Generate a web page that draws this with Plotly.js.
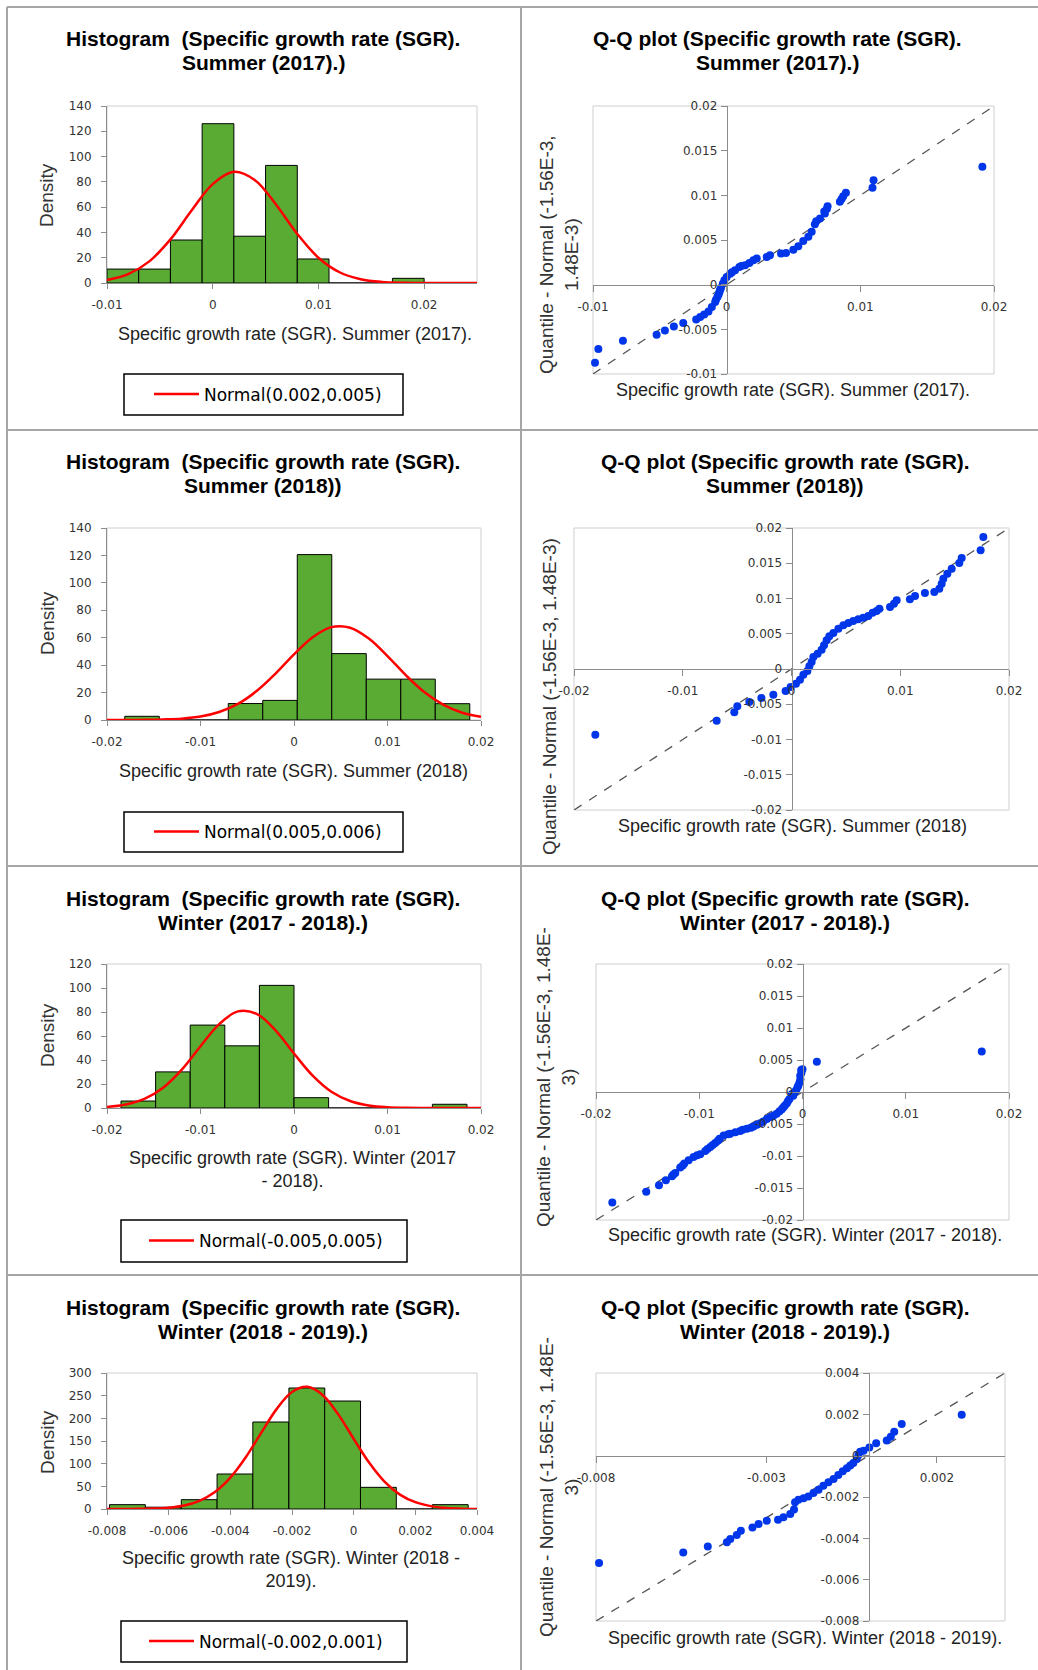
<!DOCTYPE html>
<html>
<head>
<meta charset="utf-8">
<script src="https://cdn.plot.ly/plotly-3.0.1.min.js"></script>
<style>html,body{margin:0;padding:0;background:#fff;}#chart{width:1038px;height:1670px;}</style>
</head>
<body>
<div id="chart"></div>
<script>
// ---------- DATA ----------
// Histogram 1: Summer (2017)
const h1Starts = [-0.010,-0.007,-0.004,-0.001,0.002,0.005,0.008,0.011,0.014,0.017];
const h1Width = 0.003;
const h1Density = [11,11,34,126,37,93,19,0,0,3.7];
const h1CurveX = [-0.010,-0.008,-0.006,-0.004,-0.002,0,0.002,0.004,0.006,0.008,0.010,0.012,0.014,0.016,0.018,0.020,0.022,0.025];
const h1CurveY = [2.3,7.0,17.1,34.5,57.3,78.2,87.9,81.3,61.9,38.8,20.0,8.5,3.0,0.85,0.2,0.05,0.01,0];
const h1Name = 'Normal(0.002,0.005)';
const h1TickVals = [-0.01,0,0.01,0.02];
const h1TickText = ['-0.01','0','0.01','0.02'];

// Histogram 2: Summer (2018)
const h2Starts = [-0.0181,-0.01441,-0.01072,-0.00703,-0.00334,0.00035,0.00404,0.00773,0.01142,0.01511];
const h2Width = 0.00369;
const h2Density = [2.7,0,0,12,14.3,120.6,48.4,29.8,29.8,11.9];
const h2CurveX = [-0.020,-0.018,-0.016,-0.014,-0.012,-0.010,-0.008,-0.006,-0.004,-0.002,0,0.002,0.004,0.006,0.008,0.010,0.012,0.014,0.016,0.018,0.020];
const h2CurveY = [0,0.02,0.1,0.4,1.0,2.5,5.8,11.7,21.1,33.7,47.9,60.4,67.7,67.3,59.4,46.6,32.4,20.0,11.0,5.3,2.3];
const h2Name = 'Normal(0.005,0.006)';
const h2TickVals = [-0.02,-0.01,0,0.01,0.02];
const h2TickText = ['-0.02','-0.01','0','0.01','0.02'];

// Histogram 3: Winter (2017 - 2018)
const h3Starts = [-0.0185,-0.0148,-0.0111,-0.0074,-0.0037,0,0.0037,0.0074,0.0111,0.0148];
const h3Width = 0.0037;
const h3Density = [5.8,30.1,69.1,51.8,102.2,8.6,0,0,0,3.1];
const h3CurveX = [-0.020,-0.018,-0.016,-0.014,-0.012,-0.010,-0.008,-0.006,-0.004,-0.002,0,0.002,0.004,0.006,0.008,0.010,0.012,0.014,0.016,0.020];
const h3CurveY = [0.9,2.9,7.6,16.9,32.0,51.4,69.9,80.5,78.5,64.9,45.4,26.9,13.5,5.8,2.1,0.6,0.15,0.03,0,0];
const h3Name = 'Normal(-0.005,0.005)';
const h3TickVals = [-0.02,-0.01,0,0.01,0.02];
const h3TickText = ['-0.02','-0.01','0','0.01','0.02'];

// Histogram 4: Winter (2018 - 2019)
const h4Starts = [-0.00792,-0.00676,-0.00559,-0.00443,-0.00327,-0.00210,-0.00094,0.00022,0.00138,0.00255];
const h4Width = 0.001163;
const h4Density = [9.6,4,20.6,77.2,191.9,266.9,238.2,47.8,0,9.6];
const h4CurveX = [-0.008,-0.0075,-0.007,-0.0065,-0.006,-0.0055,-0.005,-0.0045,-0.004,-0.0035,-0.003,-0.0025,-0.002,-0.0015,-0.001,-0.0005,0,0.0005,0.001,0.0015,0.002,0.0025,0.003,0.0035,0.004];
const h4CurveY = [0,0.08,0.3,1.0,3.0,7.8,18.1,37.5,69.2,114.2,168.0,220.3,258.0,269.4,251.0,208.7,154.8,102.4,60.4,31.8,15.0,6.3,2.3,0.8,0.2];
const h4Name = 'Normal(-0.002,0.001)';
const h4TickVals = [-0.008,-0.006,-0.004,-0.002,0,0.002,0.004];
const h4TickText = ['-0.008','-0.006','-0.004','-0.002','0','0.002','0.004'];

// Q-Q 1: Summer (2017)
const q1X = [-0.00985,-0.0096,-0.00776,-0.00524,-0.00462,-0.00395,-0.00325,-0.00228,-0.00198,-0.00168,-0.00136,-0.00111,-0.00086,-0.00069,-0.00054,-0.00042,-0.00029,-0.00017,0.0,0.00026,0.00063,0.00095,0.00138,0.0017,0.002,0.00225,0.003,0.00324,0.00407,0.00444,0.00499,0.00536,0.00573,0.00611,0.00636,0.0066,0.00698,0.00735,0.00755,0.00847,0.00872,0.00892,0.01091,0.01099,0.01913,-0.0008,-0.0006,-0.0005,0.0004,0.0011,0.0067,0.0073,0.0075,0.0086];
const q1Y = [-0.00875,-0.00721,-0.00628,-0.00561,-0.00512,-0.00467,-0.0043,-0.00389,-0.00363,-0.00333,-0.00299,-0.0025,-0.00194,-0.00138,-0.00082,-0.00034,0.00011,0.00049,0.00086,0.00123,0.00161,0.00198,0.00217,0.00243,0.00273,0.00292,0.0031,0.00329,0.00348,0.00355,0.00392,0.0043,0.0049,0.00535,0.00591,0.00677,0.0074,0.00796,0.00878,0.00927,0.00991,0.01028,0.01084,0.0117,0.0132,-0.0017,-0.0011,-0.0006,0.0014,0.0021,0.0071,0.0082,0.0085,0.0096];
const q1XTickVals = [-0.01,0,0.01,0.02];
const q1XTickText = ['-0.01','0','0.01','0.02'];
const q1YTickVals = [-0.01,-0.005,0,0.005,0.01,0.015,0.02];
const q1YTickText = ['-0.01','-0.005','0','0.005','0.01','0.015','0.02'];

// Q-Q 2: Summer (2018)
const q2X = [-0.01804,-0.00688,-0.00526,-0.00498,-0.00388,-0.00277,-0.00167,-0.00054,-0.00008,0.00041,0.00078,0.00109,0.00146,0.00164,0.00185,0.00201,0.0024,0.00277,0.00299,0.00323,0.00348,0.00385,0.00431,0.00477,0.00523,0.00568,0.00614,0.0066,0.00706,0.00746,0.00783,0.00808,0.00906,0.00942,0.00967,0.01089,0.01136,0.01227,0.01313,0.01359,0.01381,0.01396,0.01433,0.01473,0.01543,0.01565,0.01739,0.01764];
const q2Y = [-0.00931,-0.00733,-0.00615,-0.0053,-0.00468,-0.00411,-0.00364,-0.00312,-0.00255,-0.00208,-0.00151,-0.0008,-0.00028,0.00038,0.00099,0.0017,0.00217,0.00274,0.00336,0.00407,0.00463,0.00511,0.00572,0.00619,0.00652,0.00681,0.00704,0.00728,0.00752,0.00799,0.00823,0.00856,0.00879,0.00927,0.00974,0.00988,0.01035,0.01078,0.01092,0.0114,0.0121,0.01281,0.01352,0.01423,0.01504,0.01574,0.01683,0.01872];
const q2XTickVals = [-0.02,-0.01,0,0.01,0.02];
const q2XTickText = ['-0.02','-0.01','0','0.01','0.02'];
const q2YTickVals = [-0.02,-0.015,-0.01,-0.005,0,0.005,0.01,0.015,0.02];
const q2YTickText = ['-0.02','-0.015','-0.01','-0.005','0','0.005','0.01','0.015','0.02'];

// Q-Q 3: Winter (2017 - 2018)
const q3X = [-0.01842,-0.01513,-0.0139,-0.01323,-0.01264,-0.01232,-0.01184,-0.01145,-0.01103,-0.01055,-0.0099,-0.00942,-0.00893,-0.00845,-0.00803,-0.00764,-0.007,-0.00603,-0.00539,-0.00474,-0.0041,-0.00345,-0.0028,-0.00222,-0.00184,-0.00151,-0.00126,-0.00103,-0.00071,-0.00048,-0.00029,-0.00022,-0.00013,0.0,0.00139,0.01736,-0.0125,-0.0116,-0.0102,-0.0092,-0.0087,-0.0082,-0.0072,-0.0065,-0.0058,-0.0050,-0.0044,-0.0038,-0.0031,-0.0025,-0.0020,-0.0017,-0.0014,-0.0009,-0.0006,-0.0004,-0.0002,-0.0001];
const q3Y = [-0.01725,-0.0156,-0.01456,-0.01378,-0.01316,-0.01264,-0.01181,-0.01119,-0.01067,-0.01015,-0.00974,-0.00922,-0.0086,-0.00798,-0.0073,-0.00679,-0.00653,-0.00611,-0.00575,-0.00539,-0.00487,-0.0042,-0.00368,-0.003,-0.00238,-0.00176,-0.00109,-0.00031,0.00005,0.00073,0.0015,0.00254,0.00342,0.00357,0.00471,0.00632,-0.0129,-0.0115,-0.0099,-0.0089,-0.0083,-0.0076,-0.0066,-0.0063,-0.0059,-0.0056,-0.0051,-0.0046,-0.0039,-0.0034,-0.0027,-0.0021,-0.0014,-0.0006,0.0003,0.001,0.002,0.003];
const q3XTickVals = [-0.02,-0.01,0,0.01,0.02];
const q3XTickText = ['-0.02','-0.01','0','0.01','0.02'];
const q3YTickVals = [-0.02,-0.015,-0.01,-0.005,0,0.005,0.01,0.015,0.02];
const q3YTickText = ['-0.02','-0.015','-0.01','-0.005','0','0.005','0.01','0.015','0.02'];

// Q-Q 4: Winter (2018 - 2019)
const q4X = [-0.00791,-0.00544,-0.00472,-0.00416,-0.00406,-0.00387,-0.00375,-0.00341,-0.00323,-0.00299,-0.00266,-0.0025,-0.0023,-0.00219,-0.00216,-0.00206,-0.00191,-0.00177,-0.00162,-0.00147,-0.00133,-0.00118,-0.00103,-0.00089,-0.00076,-0.00064,-0.00054,-0.00045,-0.00035,-0.0003,-0.00025,-0.00015,0.00002,0.00022,0.00053,0.00065,0.00075,0.00097,0.00273];
const q4Y = [-0.00519,-0.00469,-0.00439,-0.00419,-0.00403,-0.00384,-0.00363,-0.00348,-0.00331,-0.00315,-0.0031,-0.00298,-0.00282,-0.00261,-0.00226,-0.00213,-0.00206,-0.00197,-0.00181,-0.00165,-0.00145,-0.00129,-0.00113,-0.00094,-0.00076,-0.00061,-0.00048,-0.00035,-0.00016,0.00003,0.00019,0.00024,0.0004,0.0006,0.00073,0.00092,0.00116,0.00153,0.00198];
const q4XTickVals = [-0.008,-0.003,0.002];
const q4XTickText = ['-0.008','-0.003','0.002'];
const q4YTickVals = [-0.008,-0.006,-0.004,-0.002,0,0.002,0.004];
const q4YTickText = ['-0.008','-0.006','-0.004','-0.002','0','0.002','0.004'];

// Titles (two lines each)
const histTitles = [
  ['Histogram  (Specific growth rate (SGR).','Summer (2017).)'],
  ['Histogram  (Specific growth rate (SGR).','Summer (2018))'],
  ['Histogram  (Specific growth rate (SGR).','Winter (2017 - 2018).)'],
  ['Histogram  (Specific growth rate (SGR).','Winter (2018 - 2019).)']];
const qqTitles = [
  ['Q-Q plot (Specific growth rate (SGR).','Summer (2017).)'],
  ['Q-Q plot (Specific growth rate (SGR).','Summer (2018))'],
  ['Q-Q plot (Specific growth rate (SGR).','Winter (2017 - 2018).)'],
  ['Q-Q plot (Specific growth rate (SGR).','Winter (2018 - 2019).)']];
const histXTitles = ['Specific growth rate (SGR). Summer (2017).','Specific growth rate (SGR). Summer (2018)','Specific growth rate (SGR). Winter (2017<br>- 2018).','Specific growth rate (SGR). Winter (2018 -<br>2019).'];
const qqXTitles = ['Specific growth rate (SGR). Summer (2017).','Specific growth rate (SGR). Summer (2018)','Specific growth rate (SGR). Winter (2017 - 2018).','Specific growth rate (SGR). Winter (2018 - 2019).'];
const qqYTitles = ['Quantile - Normal (-1.56E-3,<br>1.48E-3)','Quantile - Normal (-1.56E-3, 1.48E-3)','Quantile - Normal (-1.56E-3, 1.48E-<br>3)','Quantile - Normal (-1.56E-3, 1.48E-<br>3)'];
const densityTitle = 'Density';

// ---------- LAYOUT HELPERS ----------
const W = 1038, H = 1670;
const fx = p => p / W;
const fy = p => 1 - p / H;
const FONT = 'Liberation Sans, Arial, sans-serif';
const TFONT = 'DejaVu Sans, Verdana, sans-serif';
const GREEN = '#5aab34';
const RED = '#ff0000';
const BLUE = '#0036ea';
const AXC = '#8c8c8c';

const traces = [];
const layout = {
  width: W, height: H,
  margin: {l:0, r:0, t:0, b:0},
  paper_bgcolor: '#ffffff', plot_bgcolor: 'rgba(0,0,0,0)',
  font: {family: FONT, color: '#000'},
  showlegend: true,
  shapes: [], annotations: []
};

function ann(text, x, y, size, opts) {
  layout.annotations.push(Object.assign({
    text: text, xref: 'paper', yref: 'paper', x: fx(x), y: fy(y),
    xanchor: 'center', yanchor: 'middle', showarrow: false,
    font: {family: FONT, size: size, color: '#000'}
  }, opts || {}));
}
function title2(lines, x, y1) {
  ann('<b>' + lines[0] + '</b>', x, y1, 21);
  ann('<b>' + lines[1] + '</b>', x, y1 + 24, 21);
}

function tickFont() { return {family: TFONT, size: 12, color: '#333'}; }

function addHist(n, k, box, xr, yr, ydt, xtv, xtt, starts, w, dens, cx, cy, name, t) {
  const xa = 'xaxis' + (n === 1 ? '' : n), ya = 'yaxis' + (n === 1 ? '' : n);
  const xs = 'x' + (n === 1 ? '' : n), ys = 'y' + (n === 1 ? '' : n);
  const legId = k === 0 ? 'legend' : 'legend' + (k + 1);
  layout[xa] = {domain: [fx(box.x0), fx(box.x1)], range: xr, anchor: ys,
    tickvals: xtv, ticktext: xtt, ticks: 'outside', ticklen: 5, tickcolor: AXC,
    showline: true, linecolor: AXC, linewidth: 1, showgrid: false, zeroline: false,
    tickfont: tickFont(), ticklabelstandoff: 6, fixedrange: true};
  layout[ya] = {domain: [fy(box.y1), fy(box.y0)], range: yr, anchor: xs, dtick: ydt,
    ticks: 'outside', ticklen: 5, tickcolor: AXC,
    showline: true, linecolor: AXC, linewidth: 1, showgrid: false, zeroline: false,
    tickfont: tickFont(), ticklabelstandoff: 7, fixedrange: true};
  layout.shapes.push({type: 'rect', xref: xs + ' domain', yref: ys + ' domain', x0: 0, x1: 1, y0: 0, y1: 1,
    line: {color: '#cfcfcf', width: 1}, layer: 'below'});
  traces.push({type: 'bar', x: starts, y: dens, width: w, offset: 0, xaxis: xs, yaxis: ys,
    marker: {color: GREEN, line: {color: '#000', width: 1}}, showlegend: false, hoverinfo: 'skip'});
  traces.push({type: 'scatter', mode: 'lines', x: cx, y: cy, xaxis: xs, yaxis: ys, name: name,
    line: {color: RED, width: 2.5, shape: 'spline'}, legend: legId});
  layout.shapes.push({type: 'rect', xref: 'paper', yref: 'paper', x0: fx(t.lx0), x1: fx(t.lx1), y0: fy(t.ly1), y1: fy(t.ly0),
    line: {color: '#000', width: 1.5}});
  layout[legId] = {x: fx(t.legX), y: fy((t.ly0 + t.ly1) / 2), xanchor: 'center', yanchor: 'middle',
    bgcolor: 'rgba(0,0,0,0)', borderwidth: 0, font: {family: TFONT, size: 17, color: '#000'}, itemwidth: 45};
  title2(histTitles[k], 263, t.titleY);
  ann(densityTitle, 47, t.yTitleY, 19, {textangle: -90, font: {family: FONT, size: 19, color: '#333'}});
  ann(histXTitles[k], t.xTitleX, t.xTitleY, 18, {font: {family: FONT, size: 18, color: '#222'}});
}

function addQQ(n, k, box, xr, yr, xtv, xtt, ytv, ytt, qx, qy, t) {
  const xa = 'xaxis' + n, ya = 'yaxis' + n, xs = 'x' + n, ys = 'y' + n;
  const xd = [fx(box.x0), fx(box.x1)], yd = [fy(box.y1), fy(box.y0)];
  const yZeroPos = yd[0] + (0 - yr[0]) / (yr[1] - yr[0]) * (yd[1] - yd[0]);
  const xZeroPos = xd[0] + (0 - xr[0]) / (xr[1] - xr[0]) * (xd[1] - xd[0]);
  layout[xa] = {domain: xd, range: xr, anchor: 'free', position: yZeroPos,
    tickvals: xtv, ticktext: xtt, ticks: 'outside', ticklen: 6, tickcolor: AXC,
    showline: true, linecolor: AXC, linewidth: 1, showgrid: false, zeroline: false,
    tickfont: tickFont(), ticklabelstandoff: 5, fixedrange: true};
  layout[ya] = {domain: yd, range: yr, anchor: 'free', position: xZeroPos,
    tickvals: ytv, ticktext: ytt, ticks: 'outside', ticklen: 6, tickcolor: AXC,
    showline: true, linecolor: AXC, linewidth: 1, showgrid: false, zeroline: false,
    tickfont: tickFont(), ticklabelstandoff: 1, fixedrange: true};
  layout.shapes.push({type: 'rect', xref: xs + ' domain', yref: ys + ' domain', x0: 0, x1: 1, y0: 0, y1: 1,
    line: {color: '#cfcfcf', width: 1}, layer: 'below'});
  traces.push({type: 'scatter', mode: 'lines', x: [xr[0], xr[1]], y: [yr[0], yr[1]], xaxis: xs, yaxis: ys,
    line: {color: '#555', width: 1.3, dash: 'dash'}, showlegend: false, hoverinfo: 'skip'});
  traces.push({type: 'scatter', mode: 'markers', x: qx, y: qy, xaxis: xs, yaxis: ys,
    marker: {color: BLUE, size: 8}, showlegend: false, cliponaxis: false});
  title2(qqTitles[k], t.titleX, t.titleY);
  ann(qqYTitles[k], t.yTitleX, t.yTitleY, 19, {textangle: -90, font: {family: FONT, size: 19, color: '#333'}});
  ann(qqXTitles[k], t.xTitleX, t.xTitleY, 18, {font: {family: FONT, size: 18, color: '#222'}});
}

// ---------- PANELS ----------
addHist(1, 0, {x0:107, x1:477, y0:106, y1:283}, [-0.01, 0.025], [0, 140], 20, h1TickVals, h1TickText,
  h1Starts, h1Width, h1Density, h1CurveX, h1CurveY, h1Name,
  {titleY:39, yTitleY:195, xTitleX:295, xTitleY:334, lx0:124, lx1:403, ly0:374, ly1:415, legX:268});
addQQ(2, 0, {x0:593, x1:994, y0:106, y1:374}, [-0.01, 0.02], [-0.01, 0.02], q1XTickVals, q1XTickText, q1YTickVals, q1YTickText,
  q1X, q1Y, {titleX:777, titleY:39, yTitleX:559, yTitleY:255, xTitleX:793, xTitleY:390});

addHist(3, 1, {x0:107, x1:481, y0:528, y1:720}, [-0.02, 0.02], [0, 140], 20, h2TickVals, h2TickText,
  h2Starts, h2Width, h2Density, h2CurveX, h2CurveY, h2Name,
  {titleY:462, yTitleY:623, xTitleX:293, xTitleY:771, lx0:124, lx1:403, ly0:812, ly1:852, legX:268});
addQQ(4, 1, {x0:574, x1:1009, y0:528, y1:810}, [-0.02, 0.02], [-0.02, 0.02], q2XTickVals, q2XTickText, q2YTickVals, q2YTickText,
  q2X, q2Y, {titleX:785, titleY:462, yTitleX:549, yTitleY:697, xTitleX:792, xTitleY:826});

addHist(5, 2, {x0:107, x1:481, y0:964, y1:1108}, [-0.02, 0.02], [0, 120], 20, h3TickVals, h3TickText,
  h3Starts, h3Width, h3Density, h3CurveX, h3CurveY, h3Name,
  {titleY:898, yTitleY:1035, xTitleX:292, xTitleY:1169, lx0:121, lx1:407, ly0:1220, ly1:1262, legX:266});
addQQ(6, 2, {x0:596, x1:1009, y0:964, y1:1220}, [-0.02, 0.02], [-0.02, 0.02], q3XTickVals, q3XTickText, q3YTickVals, q3YTickText,
  q3X, q3Y, {titleX:785, titleY:898, yTitleX:556, yTitleY:1077, xTitleX:805, xTitleY:1235});

addHist(7, 3, {x0:107, x1:477, y0:1373, y1:1509}, [-0.008, 0.004], [0, 300], 50, h4TickVals, h4TickText,
  h4Starts, h4Width, h4Density, h4CurveX, h4CurveY, h4Name,
  {titleY:1307, yTitleY:1442, xTitleX:291, xTitleY:1569, lx0:121, lx1:407, ly0:1621, ly1:1662, legX:266});
addQQ(8, 3, {x0:596, x1:1005, y0:1373, y1:1621}, [-0.008, 0.004], [-0.008, 0.004], q4XTickVals, q4XTickText, q4YTickVals, q4YTickText,
  q4X, q4Y, {titleX:785, titleY:1307, yTitleX:559, yTitleY:1487, xTitleX:805, xTitleY:1638});

// ---------- CELL BORDERS ----------
const BC = '#a6a6a6';
function pline(x0, y0, x1, y1) {
  layout.shapes.push({type: 'line', xref: 'paper', yref: 'paper', x0: fx(x0), y0: fy(y0), x1: fx(x1), y1: fy(y1),
    line: {color: BC, width: 2}});
}
pline(7, 7, 1038, 7);
pline(7, 7, 7, 1670);
pline(521, 7, 521, 1670);
pline(7, 430, 1038, 430);
pline(7, 866, 1038, 866);
pline(7, 1275, 1038, 1275);

Plotly.newPlot('chart', traces, layout, {staticPlot: true, displayModeBar: false});
</script>
</body>
</html>
